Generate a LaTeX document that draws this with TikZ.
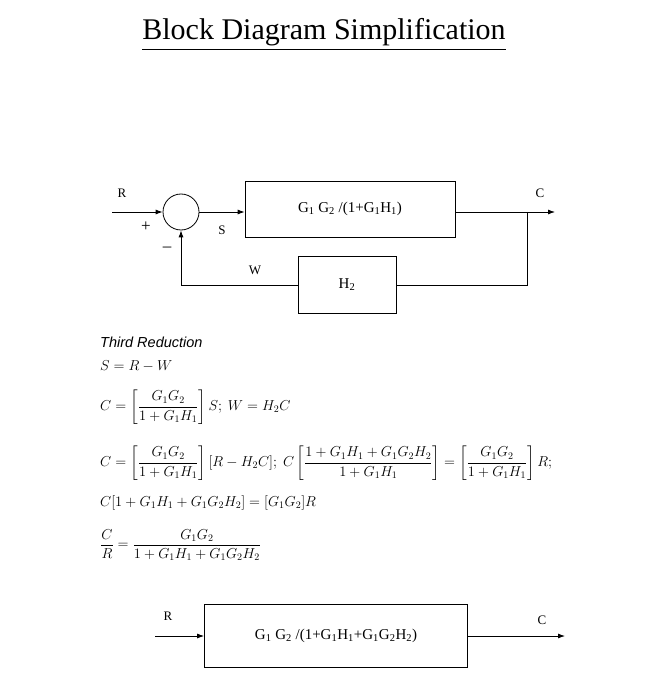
\documentclass[tikz,border=0pt]{standalone}
\usepackage{fontspec}
\setmainfont{Liberation Serif}
\newfontfamily\eqfont{Liberation Sans}
\usepackage{amsmath}
\usetikzlibrary{arrows.meta}
\begin{document}
\begin{tikzpicture}[x=1pt,y=-1pt,
  ln/.style={line width=0.8pt},
  arr/.style={ln,-{Latex[length=7pt,width=5pt]}},
  lbl/.style={font=\fontsize{13}{15}\selectfont},
  eq/.style={anchor=west,font=\fontsize{14.5}{17}\selectfont,inner sep=0pt}]
\useasboundingbox (0,0) rectangle (660,700);
\node (title) at (324,35) {\fontsize{30}{34}\selectfont\underline{Block Diagram Simplification}};
% top diagram
\node[draw,circle,line width=0.8pt,minimum size=36pt,inner sep=0pt] (sum) at (181,212) {};
\node[draw,line width=0.8pt,minimum width=210pt,minimum height=56pt] (g) at (350,209) {\fontsize{15}{18}\selectfont G\textsubscript{1} G\textsubscript{2} /(1+G\textsubscript{1}H\textsubscript{1})};
\node[draw,line width=0.8pt,minimum width=98pt,minimum height=57pt] (h) at (347,285) {\fontsize{15}{18}\selectfont H\textsubscript{2}};
\coordinate (rin) at (112,212);
\coordinate (cout) at (555,212);
\coordinate (br) at (527,212);
\draw[arr] (rin) -- (sum.west);
\draw[arr] (sum.east) -- (g.west |- sum);
\draw[arr] (g.east |- br) -- (cout);
\draw[ln] (br) -- (br |- h.east) -- (h.east);
\draw[arr] (h.west) -- (sum.south |- h.west) -- (sum.south);
\node[lbl] at (122,193) {R};
\node[lbl,font=\fontsize{17}{18}\selectfont] at (146,227) {+};
\node[lbl,font=\fontsize{17}{18}\selectfont] at (167,249) {--};
\node[lbl] at (222,230) {S};
\node[lbl] at (255,270) {W};
\node[lbl] at (540,193) {C};
% equations
\node[eq] (e0) at (100,342) {\eqfont\itshape Third Reduction};
\node[eq] (e1) at (100,366) {$S=R-W$};
\node[eq] (e2) at (100,407) {$C=\left[\dfrac{G_1G_2}{1+G_1H_1}\right]S;\ W=H_2C$};
\node[eq] (e3) at (100,463) {$C=\left[\dfrac{G_1G_2}{1+G_1H_1}\right][R-H_2C];\ C\left[\dfrac{1+G_1H_1+G_1G_2H_2}{1+G_1H_1}\right]=\left[\dfrac{G_1G_2}{1+G_1H_1}\right]R;$};
\node[eq] (e4) at (100,503) {$C[1+G_1H_1+G_1G_2H_2]=[G_1G_2]R$};
\node[eq] (e5) at (100,545) {$\dfrac{C}{R}=\dfrac{G_1G_2}{1+G_1H_1+G_1G_2H_2}$};
% bottom diagram
\node[draw,line width=0.8pt,minimum width=263pt,minimum height=63pt] (t) at (336,636) {\fontsize{15}{18}\selectfont G\textsubscript{1} G\textsubscript{2} /(1+G\textsubscript{1}H\textsubscript{1}+G\textsubscript{1}G\textsubscript{2}H\textsubscript{2})};
\coordinate (rin2) at (155,636);
\coordinate (cout2) at (565,636);
\draw[arr] (rin2) -- (t.west);
\draw[arr] (t.east) -- (cout2);
\node[lbl] at (168,616) {R};
\node[lbl] at (542,620) {C};
\end{tikzpicture}
\end{document}
